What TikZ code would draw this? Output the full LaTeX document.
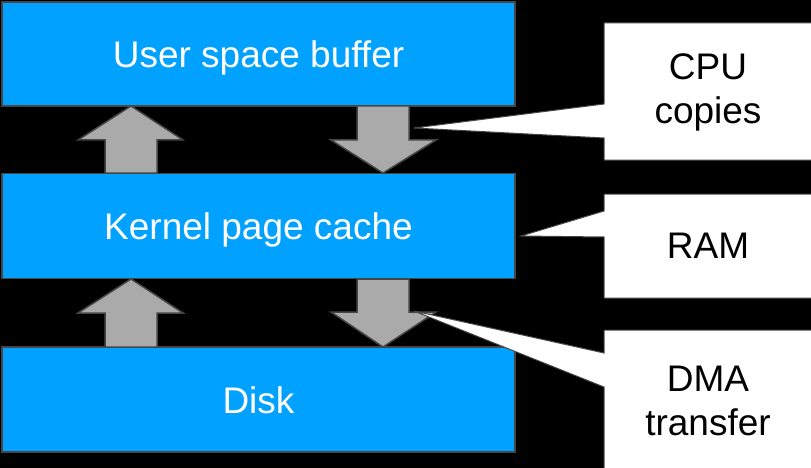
\documentclass[tikz,border=0pt]{standalone}
\usepackage{fontspec}
\setmainfont{Liberation Sans}
\definecolor{boxblue}{RGB}{0,161,255}
\definecolor{arrgray}{RGB}{170,170,170}
\definecolor{edgegray}{RGB}{70,70,70}
\begin{document}
\begin{tikzpicture}[x=1pt,y=-1pt,
  blk/.style={draw=edgegray,line width=1.5pt,fill=boxblue,text=white,minimum width=513pt,inner sep=0pt,text height=27pt,text depth=0pt,font=\fontsize{37}{44}\selectfont},
  arr/.style={draw=edgegray,line width=1.5pt,fill=arrgray,line join=miter},
  call/.style={draw=edgegray,line width=1pt,fill=white,line join=miter},
  calltext/.style={align=center,text=black,font=\fontsize{37}{44}\selectfont,inner sep=0pt}]
\fill[black] (0,0) rectangle (811,468);
\useasboundingbox (0,0) rectangle (811,468);
\clip (0,0) rectangle (811,468);
% blue boxes
\node[blk,minimum height=104pt] (user) at (258.5,54) {User space buffer};
\node[blk,minimum height=105pt] (kernel) at (258.5,226) {Kernel page cache};
\node[blk,minimum height=105pt] (disk) at (258.5,399.5) {Disk};
% up arrows
\draw[arr] (131,106) -- (183,140) -- (157,140) -- (157,173) -- (105,173) -- (105,140) -- (78,140) -- cycle;
\draw[arr] (131,279) -- (183,313) -- (157,313) -- (157,347) -- (105,347) -- (105,313) -- (78,313) -- cycle;
% down arrows
\draw[arr] (383,173) -- (436,140) -- (409,140) -- (409,106) -- (357,106) -- (357,140) -- (331,140) -- cycle;
\draw[arr] (383,347) -- (436,312) -- (409,312) -- (409,279) -- (357,279) -- (357,312) -- (331,312) -- cycle;
% callouts
\draw[call] (820,23) -- (604,23) -- (604,104) -- (414,128) -- (604,138) -- (604,160) -- (820,160);
\node[calltext] (cpu) at (708,92) {CPU\\copies};
\draw[call] (820,194) -- (604,194) -- (604,211) -- (521,236) -- (604,237) -- (604,298) -- (820,298);
\node[calltext] (ram) at (708,246) {RAM};
\draw[call] (820,330) -- (604,330) -- (604,353) -- (414,311) -- (604,387) -- (604,480) -- (820,480);
\node[calltext] (dma) at (708,401) {DMA\\transfer};
\end{tikzpicture}
\end{document}
